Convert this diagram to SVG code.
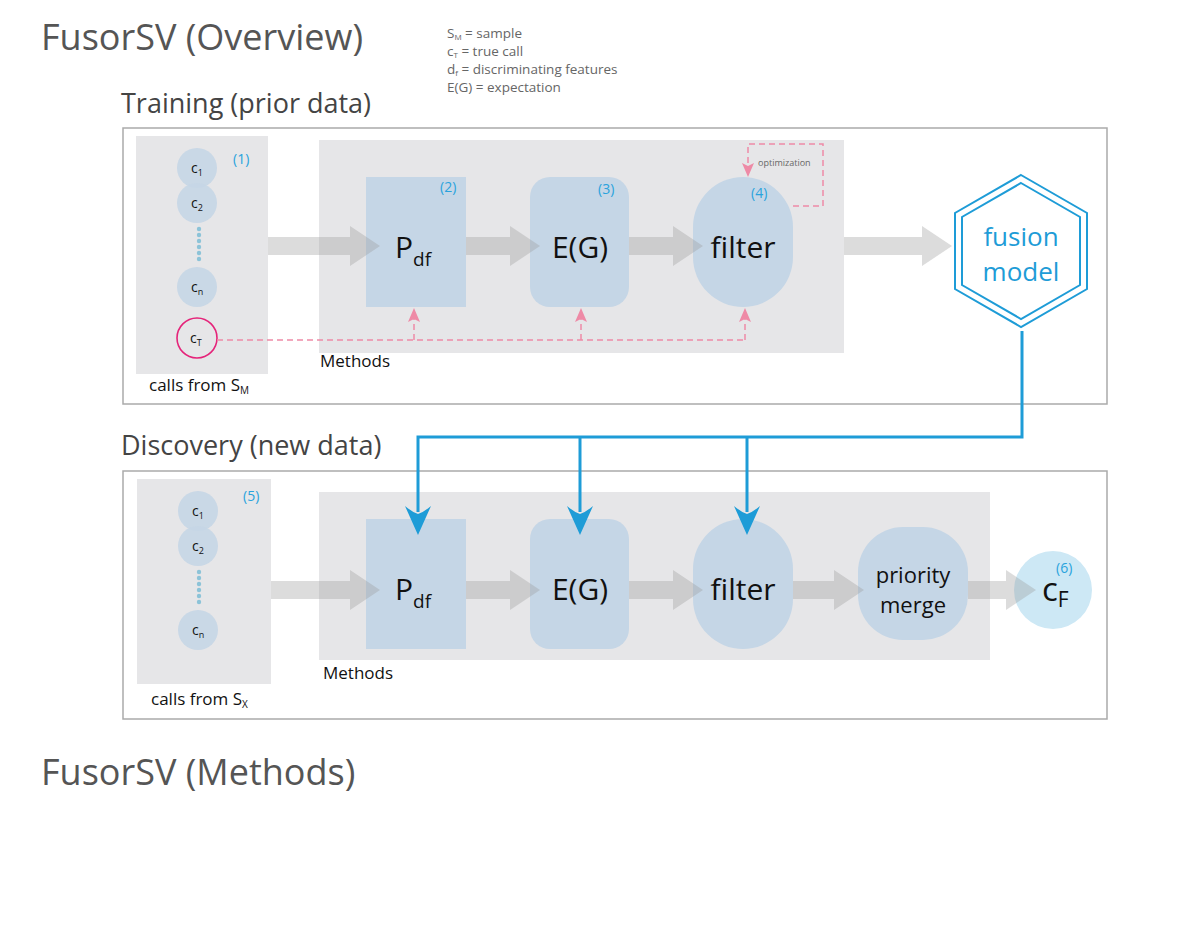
<svg xmlns="http://www.w3.org/2000/svg" width="1200" height="927" viewBox="0 0 1200 927">
<style>
text{font-family:"Open Sans","Noto Sans","DejaVu Sans",sans-serif;}
.title{font-size:36px;fill:#555;}
.sec{font-size:27px;fill:#444;}
.leg{font-size:13.5px;fill:#666;}
.outer{fill:#fff;stroke:#aaa;stroke-width:1.5;}
.panel{fill:#e6e6e8;}
.box{fill:#c5d6e6;}
.call{fill:#c5d6e6;opacity:0.9;}
.num{font-size:14px;fill:#29a3dd;}
.big{font-size:30px;fill:#111;}
.sm{font-size:14px;fill:#111;}
.lbl{font-size:17px;fill:#111;}
.garrow{fill:#9a9a9a;opacity:0.35;}
.pink{fill:none;stroke:#ee8aa6;stroke-width:1.5;stroke-dasharray:6,4;}
.pinkhead{fill:#ee8aa6;}
.blue{fill:none;stroke:#1e9cd7;stroke-width:3;}
.bluehead{fill:#1e9cd7;}
.dot{fill:#8cc3d8;}
</style>

<text class="title" x="41" y="50">FusorSV (Overview)</text>
<g id="legend">
<text class="leg" x="447" y="38">S<tspan font-size="8" dy="2">M</tspan><tspan dy="-2"> = sample</tspan></text>
<text class="leg" x="447" y="56">c<tspan font-size="8" dy="2">T</tspan><tspan dy="-2"> = true call</tspan></text>
<text class="leg" x="447" y="74">d<tspan font-size="8" dy="2">f</tspan><tspan dy="-2"> = discriminating features</tspan></text>
<text class="leg" x="447" y="92">E(G) = expectation</text>
</g>

<text class="sec" x="121" y="113">Training (prior data)</text>
<rect class="outer" x="123" y="128" width="984" height="276"/>

<text class="sec" x="121" y="455">Discovery (new data)</text>
<rect class="outer" x="123" y="471" width="984" height="248"/>

<text class="title" x="41" y="785">FusorSV (Methods)</text>

<!-- Training -->
<g id="calls-train">
<rect class="panel" x="136" y="136" width="132" height="238"/>
<circle class="call" cx="197" cy="168" r="20"/>
<circle class="call" cx="197" cy="203" r="20"/>
<circle class="dot" cx="199" cy="229" r="2.2"/>
<circle class="dot" cx="199" cy="235" r="2.2"/>
<circle class="dot" cx="199" cy="241" r="2.2"/>
<circle class="dot" cx="199" cy="247" r="2.2"/>
<circle class="dot" cx="199" cy="253" r="2.2"/>
<circle class="dot" cx="199" cy="259" r="2.2"/>
<circle class="call" cx="197" cy="287" r="20"/>
<circle cx="197" cy="338" r="20" fill="none" stroke="#e5247a" stroke-width="1.6"/>
<text class="sm" x="191" y="173">c<tspan font-size="9" dy="3">1</tspan></text>
<text class="sm" x="191" y="208">c<tspan font-size="9" dy="3">2</tspan></text>
<text class="sm" x="191" y="292">c<tspan font-size="9" dy="3">n</tspan></text>
<text class="sm" x="190" y="343">c<tspan font-size="9" dy="3">T</tspan></text>
<text class="num" x="233" y="164">(1)</text>
<text class="lbl" x="149" y="391">calls from S<tspan font-size="10" dy="3">M</tspan></text>
</g>

<g id="methods-train">
<rect class="panel" x="319" y="140" width="525" height="213"/>
<text class="lbl" x="320" y="367">Methods</text>
</g>

<g id="pdf-train">
<rect class="box" x="366" y="177" width="100" height="130"/>
<text class="num" x="440" y="192">(2)</text>
<text class="big" x="395" y="258">P<tspan font-size="19" dy="8">df</tspan></text>
</g>
<g id="eg-train">
<rect class="box" x="530" y="177" width="99" height="130" rx="20"/>
<text class="num" x="598" y="194">(3)</text>
<text class="big" x="580" y="258" text-anchor="middle">E(G)</text>
</g>
<g id="filter-train">
<rect class="box" x="693" y="177" width="100" height="130" rx="50"/>
<text class="num" x="751" y="198">(4)</text>
<text class="big" x="743" y="258" text-anchor="middle">filter</text>
<text x="758" y="166" font-size="9" fill="#666">optimization</text>
</g>

<g id="fusion-model">
<polygon points="1021,175 1087,213 1087,289 1021,327 955,289 955,213" fill="#fff" stroke="#1e9cd7" stroke-width="2"/>
<polygon points="1021,183 1080,217 1080,285 1021,319 962,285 962,217" fill="none" stroke="#1e9cd7" stroke-width="2"/>
<text x="1021" y="246" font-size="26" fill="#1e9cd7" text-anchor="middle">fusion</text>
<text x="1021" y="281" font-size="26" fill="#1e9cd7" text-anchor="middle">model</text>
</g>

<!-- Discovery -->
<g id="calls-disc">
<rect class="panel" x="137" y="479" width="134" height="205"/>
<circle class="call" cx="198" cy="511" r="20"/>
<circle class="call" cx="198" cy="546" r="20"/>
<circle class="dot" cx="199" cy="572" r="2.2"/>
<circle class="dot" cx="199" cy="578" r="2.2"/>
<circle class="dot" cx="199" cy="584" r="2.2"/>
<circle class="dot" cx="199" cy="590" r="2.2"/>
<circle class="dot" cx="199" cy="596" r="2.2"/>
<circle class="dot" cx="199" cy="602" r="2.2"/>
<circle class="call" cx="198" cy="630" r="20"/>
<text class="sm" x="192" y="516">c<tspan font-size="9" dy="3">1</tspan></text>
<text class="sm" x="192" y="551">c<tspan font-size="9" dy="3">2</tspan></text>
<text class="sm" x="192" y="635">c<tspan font-size="9" dy="3">n</tspan></text>
<text class="num" x="243" y="501">(5)</text>
<text class="lbl" x="151" y="705">calls from S<tspan font-size="10" dy="3">X</tspan></text>
</g>

<g id="methods-disc">
<rect class="panel" x="319" y="492" width="671" height="168"/>
<text class="lbl" x="323" y="679">Methods</text>
</g>

<g id="pdf-disc">
<rect class="box" x="366" y="519" width="100" height="130"/>
<text class="big" x="395" y="600">P<tspan font-size="19" dy="8">df</tspan></text>
</g>
<g id="eg-disc">
<rect class="box" x="530" y="519" width="99" height="130" rx="20"/>
<text class="big" x="580" y="600" text-anchor="middle">E(G)</text>
</g>
<g id="filter-disc">
<rect class="box" x="693" y="519" width="100" height="130" rx="50"/>
<text class="big" x="743" y="600" text-anchor="middle">filter</text>
</g>
<g id="priority-merge">
<rect class="box" x="858" y="527" width="110" height="113" rx="45"/>
<text x="913" y="583" font-size="22" fill="#111" text-anchor="middle">priority</text>
<text x="913" y="613" font-size="22" fill="#111" text-anchor="middle">merge</text>
</g>
<g id="cF">
<circle cx="1053" cy="590" r="39" fill="#cde8f5"/>
<text class="num" x="1056" y="573">(6)</text>
<text x="1042" y="601" font-size="33" fill="#111">c<tspan font-size="21" dy="6">F</tspan></text>
</g>

<!-- connectors -->
<g id="connectors">
<path class="garrow" d="M268,237 H350 V226 L380,246 L350,266 V255 H268 Z"/>
<path class="garrow" d="M466,237 H510 V226 L540,246 L510,266 V255 H466 Z"/>
<path class="garrow" d="M629,237 H673 V226 L703,246 L673,266 V255 H629 Z"/>
<path class="garrow" d="M844,237 H922 V226 L952,246 L922,266 V255 H844 Z"/>
<path class="garrow" d="M271,581 H350 V570 L380,590 L350,610 V599 H271 Z"/>
<path class="garrow" d="M466,581 H510 V570 L540,590 L510,610 V599 H466 Z"/>
<path class="garrow" d="M629,581 H673 V570 L703,590 L673,610 V599 H629 Z"/>
<path class="garrow" d="M793,581 H834 V570 L864,590 L834,610 V599 H793 Z"/>
<path class="garrow" d="M968,581 H1006 V570 L1036,590 L1006,610 V599 H968 Z"/>

<path class="pink" d="M217,340 H745"/>
<path class="pink" d="M414,340 V318"/>
<path class="pink" d="M581,340 V318"/>
<path class="pink" d="M745,340 V318"/>
<path class="pinkhead" d="M414,308 L420,322 L414,319 L408,322 Z"/>
<path class="pinkhead" d="M581,308 L587,322 L581,319 L575,322 Z"/>
<path class="pinkhead" d="M745,308 L751,322 L745,319 L739,322 Z"/>
<path class="pink" d="M793,206 H823 V144 H748 V165"/>
<path class="pinkhead" d="M748,177 L754,163 L748,166 L742,163 Z"/>

<path class="blue" d="M1022,331 V437 H418 V512"/>
<path class="blue" d="M580,437 V512"/>
<path class="blue" d="M747,437 V512"/>
<path class="bluehead" d="M418,535 L405,506 Q412,512 418,514 Q424,512 431,506 Z"/>
<path class="bluehead" d="M580,535 L567,506 Q574,512 580,514 Q586,512 593,506 Z"/>
<path class="bluehead" d="M747,535 L734,506 Q741,512 747,514 Q753,512 760,506 Z"/>
</g>
</svg>
